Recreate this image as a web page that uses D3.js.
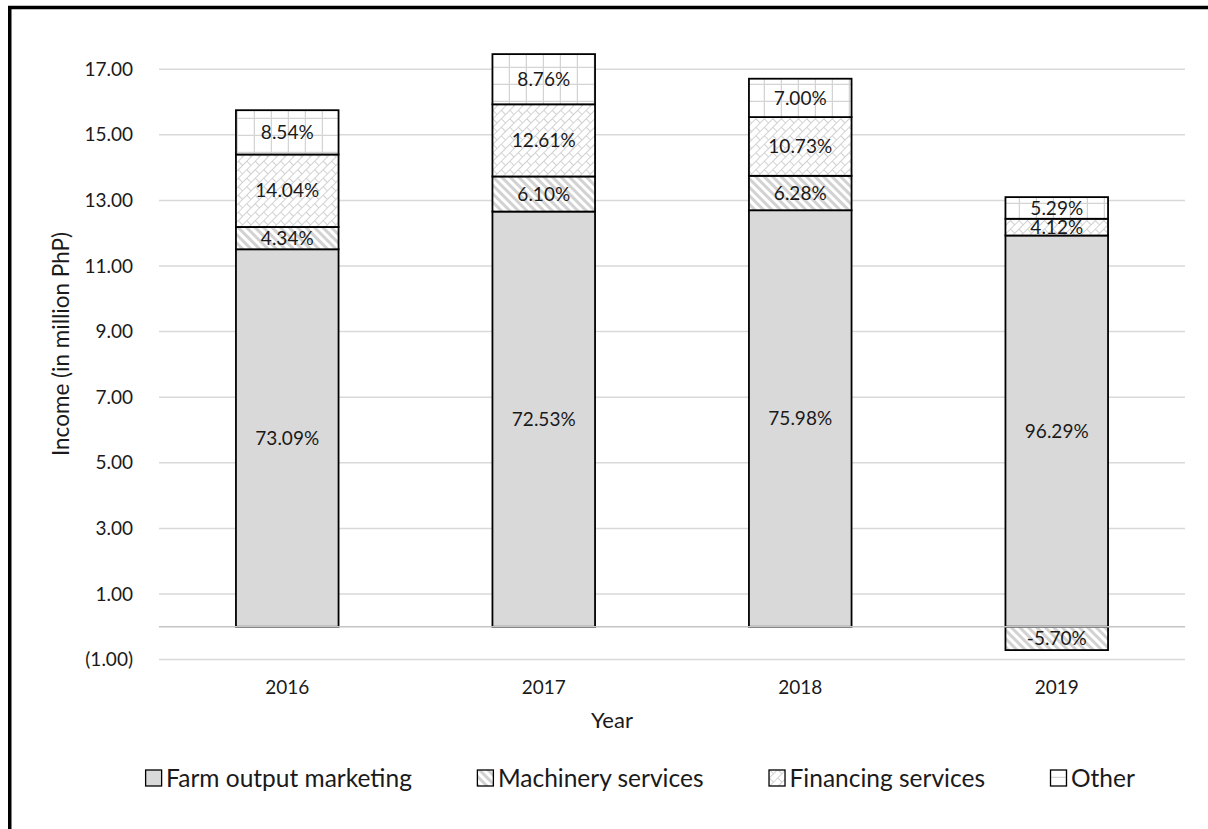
<!DOCTYPE html>
<html>
<head>
<meta charset="utf-8">
<script src="https://cdn.jsdelivr.net/npm/d3@7"></script>
<style>
  body { margin: 0; background: #fff; }
  svg text { font-family: Lato, "Noto Sans", sans-serif; fill: #1a1a1a; }
</style>
</head>
<body>
<svg id="chart"></svg>
<script>
// Income by source, in million PhP
const years = ['2016', '2017', '2018', '2019'];
const seriesKeys = ['farm', 'machinery', 'financing', 'other'];
const seriesNames = ['Farm output marketing', 'Machinery services', 'Financing services', 'Other'];

const farmOutput = [11.51, 12.66, 12.70, 11.93];
const machinery = [0.68, 1.07, 1.05, -0.71];
const financing = [2.21, 2.20, 1.79, 0.51];
const other = [1.35, 1.53, 1.17, 0.66];

// share labels shown inside the segments
const farmLabels = ['73.09%', '72.53%', '75.98%', '96.29%'];
const machineryLabels = ['4.34%', '6.10%', '6.28%', '-5.70%'];
const financingLabels = ['14.04%', '12.61%', '10.73%', '4.12%'];
const otherLabels = ['8.54%', '8.76%', '7.00%', '5.29%'];

const yTicks = [-1, 1, 3, 5, 7, 9, 11, 13, 15, 17];

class StackedBarChart {

  constructor(_config, _data, _labels) {
    this.config = {
      parentElement: _config.parentElement,
      containerWidth: 1208,
      containerHeight: 829,
      plotLeft: 159,
      plotRight: 1185,
      yTop: 69.2,
      yBottom: 659.6,
      legendY: 778,
      legendGap: 65,
      legendSwatch: 16,
      legendCenter: 640
    }
    this.data = _data;
    this.labels = _labels;
    this.initVis();
  }

  initVis() {
    let vis = this;

    vis.svg = d3.select(vis.config.parentElement)
      .attr('width', vis.config.containerWidth)
      .attr('height', vis.config.containerHeight);

    // fill patterns, Excel style
    const defs = vis.svg.append('defs');

    const stripes = defs.append('pattern')
      .attr('id', 'pat-machinery')
      .attr('patternUnits', 'userSpaceOnUse')
      .attr('width', 6).attr('height', 6)
      .attr('patternTransform', 'rotate(-45)');
    stripes.append('rect').attr('width', 6).attr('height', 6).attr('fill', '#fff');
    stripes.append('rect').attr('width', 3).attr('height', 6).attr('fill', '#d2d2d2');

    const brick = defs.append('pattern')
      .attr('id', 'pat-financing')
      .attr('patternUnits', 'userSpaceOnUse')
      .attr('width', 12).attr('height', 12)
      .attr('patternTransform', 'rotate(-45)');
    brick.append('rect').attr('width', 12).attr('height', 12).attr('fill', '#fff');
    brick.append('path')
      .attr('d', 'M0,0.5H12M0,6.5H12M0.5,0V6.5M6.5,6.5V12')
      .attr('stroke', '#d2d2d2')
      .attr('stroke-width', 1)
      .attr('fill', 'none');

    const grid = defs.append('pattern')
      .attr('id', 'pat-other')
      .attr('patternUnits', 'userSpaceOnUse')
      .attr('width', 17).attr('height', 17);
    grid.append('rect').attr('width', 17).attr('height', 17).attr('fill', '#fff');
    grid.append('path')
      .attr('d', 'M0,16.5H17M16.5,0V17')
      .attr('stroke', '#d4d4d4')
      .attr('stroke-width', 1.5)
      .attr('fill', 'none');

    vis.fills = {
      farm: '#d9d9d9',
      machinery: 'url(#pat-machinery)',
      financing: 'url(#pat-financing)',
      other: 'url(#pat-other)'
    };

    // outer frame
    vis.svg.append('rect')
      .attr('x', 9.75).attr('y', 7.5)
      .attr('width', 1400).attr('height', 1000)
      .attr('fill', 'none')
      .attr('stroke', '#000')
      .attr('stroke-width', 3.5);

    vis.xScale = d3.scaleBand()
      .domain(years)
      .range([vis.config.plotLeft, vis.config.plotRight])
      .paddingInner(0.6)
      .paddingOuter(0.3);

    vis.yScale = d3.scaleLinear()
      .domain([-1, 17])
      .range([vis.config.yBottom, vis.config.yTop]);

    vis.gridArea = vis.svg.append('g');
    vis.chartArea = vis.svg.append('g');
    vis.axisArea = vis.svg.append('g');
    vis.legend = vis.svg.append('g');

    // y axis title
    vis.svg.append('text')
      .attr('transform', 'translate(61,344) rotate(-90)')
      .attr('text-anchor', 'middle')
      .attr('dy', '0.35em')
      .style('font-size', '22.5px')
      .text('Income (in million PhP)');

    // x axis title
    vis.svg.append('text')
      .attr('x', 612)
      .attr('y', 720)
      .attr('text-anchor', 'middle')
      .attr('dy', '0.35em')
      .style('font-size', '22px')
      .text('Year');

    vis.updateVis();
  }

  updateVis() {
    let vis = this;
    vis.stack = d3.stack()
      .keys(seriesKeys)
      .offset(d3.stackOffsetDiverging);
    vis.stackedData = vis.stack(vis.data);
    vis.renderVis();
    vis.renderLegend();
  }

  renderVis() {
    let vis = this;

    // gridlines + tick labels
    vis.gridArea.selectAll('.grid')
      .data(yTicks)
      .join('line')
        .attr('class', 'grid')
        .attr('x1', vis.config.plotLeft)
        .attr('x2', vis.config.plotRight)
        .attr('y1', d => vis.yScale(d))
        .attr('y2', d => vis.yScale(d))
        .attr('stroke', '#d9d9d9')
        .attr('stroke-width', 1.5);

    const fmt = d3.format('.2f');
    vis.gridArea.selectAll('.tick-label')
      .data(yTicks)
      .join('text')
        .attr('class', 'tick-label')
        .attr('x', 133)
        .attr('y', d => vis.yScale(d))
        .attr('dy', '0.35em')
        .attr('text-anchor', 'end')
        .style('font-size', '19px')
        .text(d => d < 0 ? `(${fmt(-d)})` : fmt(d));

    // segments
    const layers = vis.chartArea.selectAll('.layer')
      .data(vis.stackedData)
      .join('g')
        .attr('class', 'layer')
        .attr('fill', d => vis.fills[d.key]);

    layers.selectAll('rect')
      .data(d => d)
      .join('rect')
        .attr('x', d => vis.xScale(d.data.year))
        .attr('width', vis.xScale.bandwidth())
        .attr('y', d => vis.yScale(Math.max(d[0], d[1])))
        .attr('height', d => Math.abs(vis.yScale(d[0]) - vis.yScale(d[1])))
        .attr('stroke', '#000')
        .attr('stroke-width', 1.8);

    // zero axis line
    vis.axisArea.append('line')
      .attr('x1', vis.config.plotLeft)
      .attr('x2', vis.config.plotRight)
      .attr('y1', vis.yScale(0))
      .attr('y2', vis.yScale(0))
      .attr('stroke', '#c4c4c4')
      .attr('stroke-width', 1.5);

    // segment labels
    const labelLayers = vis.axisArea.selectAll('.label-layer')
      .data(vis.stackedData)
      .join('g')
        .attr('class', 'label-layer');

    labelLayers.selectAll('text')
      .data(d => d.map((s, i) => ({s: s, text: vis.labels[d.key][i]})))
      .join('text')
        .attr('x', d => vis.xScale(d.s.data.year) + vis.xScale.bandwidth() / 2)
        .attr('y', d => vis.yScale((d.s[0] + d.s[1]) / 2))
        .attr('dy', '0.35em')
        .attr('text-anchor', 'middle')
        .style('font-size', '19px')
        .text(d => d.text);

    // category labels
    vis.axisArea.selectAll('.year-label')
      .data(years)
      .join('text')
        .attr('class', 'year-label')
        .attr('x', d => vis.xScale(d) + vis.xScale.bandwidth() / 2)
        .attr('y', 687)
        .attr('dy', '0.35em')
        .attr('text-anchor', 'middle')
        .style('font-size', '19px')
        .text(d => d);
  }

  renderLegend() {
    let vis = this;
    const sw = vis.config.legendSwatch;

    const entry = vis.legend.selectAll('.legend-entry')
      .data(seriesKeys)
      .join('g')
        .attr('class', 'legend-entry');

    entry.append('rect')
      .attr('x', 0.5)
      .attr('y', -sw / 2)
      .attr('width', sw)
      .attr('height', sw)
      .attr('fill', d => vis.fills[d])
      .attr('stroke', '#000')
      .attr('stroke-width', 1.3);

    entry.append('text')
      .attr('x', sw + 5)
      .attr('dy', '0.35em')
      .style('font-size', '24.5px')
      .text((d, i) => seriesNames[i]);

    // lay entries out side by side, centred under the plot
    let widths = [];
    entry.each(function() {
      widths.push(sw + 5 + d3.select(this).select('text').node().getComputedTextLength());
    });
    const total = d3.sum(widths) + vis.config.legendGap * (widths.length - 1);
    let x = vis.config.legendCenter - total / 2;
    entry.attr('transform', (d, i) => {
      const t = `translate(${x},${vis.config.legendY})`;
      x += widths[i] + vis.config.legendGap;
      return t;
    });
  }
}

const table = years.map((y, i) => ({
  year: y,
  farm: farmOutput[i],
  machinery: machinery[i],
  financing: financing[i],
  other: other[i]
}));

const labelMap = {
  farm: farmLabels,
  machinery: machineryLabels,
  financing: financingLabels,
  other: otherLabels
};

const chart = new StackedBarChart({ parentElement: '#chart' }, table, labelMap);
</script>
</body>
</html>
